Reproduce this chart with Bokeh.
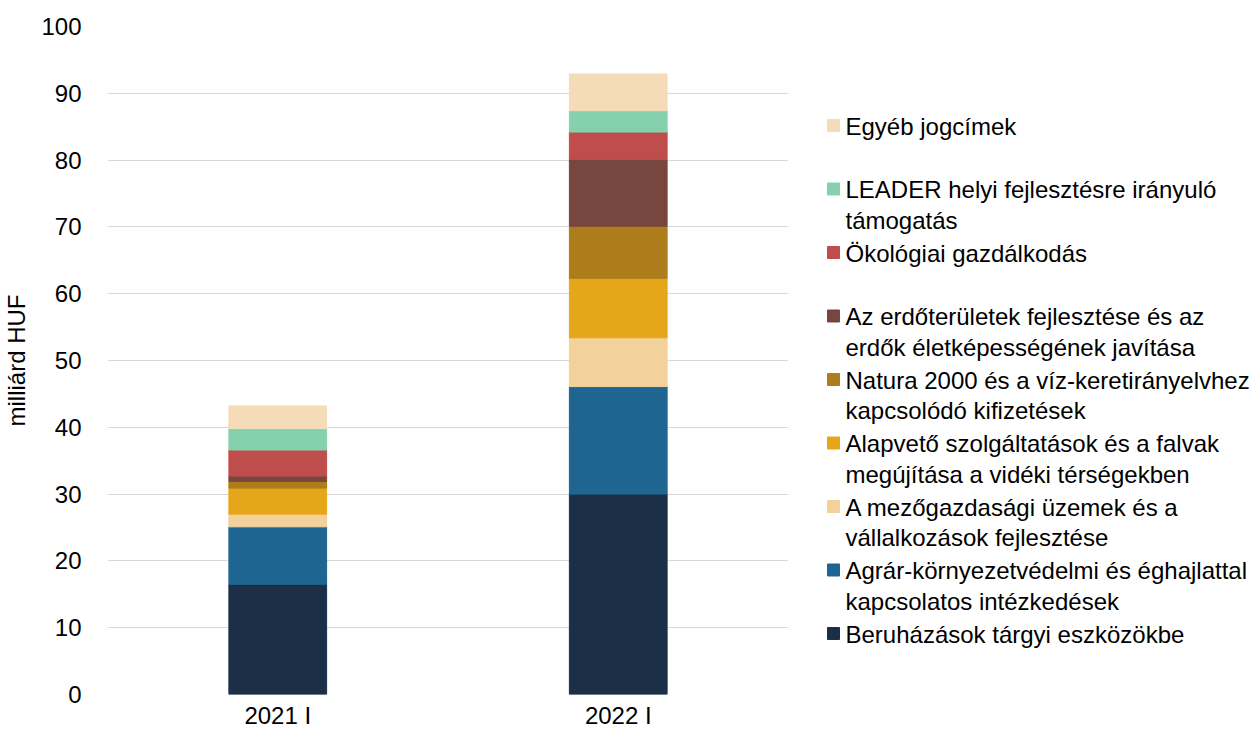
from bokeh.plotting import figure
from bokeh.models import ColumnDataSource, FactorRange, Range1d, SingleIntervalTicker
from bokeh.layouts import row
from bokeh.embed import file_html
from bokeh.resources import INLINE
from bokeh.core.properties import value

# ---- data ----
categories = ["2021 I", "2022 I"]
series_names = [
    "Beruházások tárgyi eszközökbe",
    "Agrár-környezetvédelmi és éghajlattal kapcsolatos intézkedések",
    "A mezőgazdasági üzemek és a vállalkozások fejlesztése",
    "Alapvető szolgáltatások és a falvak megújítása a vidéki térségekben",
    "Natura 2000 és a víz-keretirányelvhez kapcsolódó kifizetések",
    "Az erdőterületek fejlesztése és az erdők életképességének javítása",
    "Ökológiai gazdálkodás",
    "LEADER helyi fejlesztésre irányuló támogatás",
    "Egyéb jogcímek",
]
legend_labels = [
    "Beruházások tárgyi eszközökbe",
    "Agrár-környezetvédelmi és éghajlattal\nkapcsolatos intézkedések",
    "A mezőgazdasági üzemek és a\nvállalkozások fejlesztése",
    "Alapvető szolgáltatások és a falvak\nmegújítása a vidéki térségekben",
    "Natura 2000 és a víz-keretirányelvhez\nkapcsolódó kifizetések",
    "Az erdőterületek fejlesztése és az\nerdők életképességének javítása",
    "Ökológiai gazdálkodás",
    "LEADER helyi fejlesztésre irányuló\ntámogatás",
    "Egyéb jogcímek",
]
beruhazas = [16.5, 30.0]
agrar = [8.6, 16.1]
mezogazd = [1.9, 7.3]
alapveto = [3.9, 8.9]
natura = [1.0, 7.8]
erdo = [0.8, 10.0]
okologiai = [3.9, 4.1]
leader = [3.2, 3.2]
egyeb = [3.4, 5.5]
colors = ["#1b3047", "#1f6592", "#f2d19b", "#e6a61a", "#ad7d1c",
          "#77473f", "#bf4d4b", "#85d1ad", "#f3dcb7"]

keys = ["s0", "s1", "s2", "s3", "s4", "s5", "s6", "s7", "s8"]
series_values = [beruhazas, agrar, mezogazd, alapveto, natura, erdo, okologiai, leader, egyeb]
data = {"cat": categories}
for k, v in zip(keys, series_values):
    data[k] = v
source = ColumnDataSource(data)

FONT = "Liberation Sans"
FS = "24px"
H = 731
W_MAIN = 808
FRAME_TOP = 26
FRAME_BOTTOM = 694

p = figure(x_range=FactorRange(*categories, range_padding=0), y_range=Range1d(0, 100),
           width=W_MAIN, height=H, output_backend="svg", toolbar_location=None,
           min_border_left=104, min_border_right=20, min_border_top=FRAME_TOP,
           min_border_bottom=H - FRAME_BOTTOM)
p.vbar_stack(keys, x="cat", width=0.287, color=colors, source=source)

p.outline_line_color = None
p.xgrid.grid_line_color = None
p.ygrid.grid_line_color = "#d9d9d9"
p.ygrid.grid_line_width = 1
p.yaxis.ticker = SingleIntervalTicker(interval=10)
for ax in (p.xaxis, p.yaxis):
    ax.axis_line_color = None
    ax.major_tick_line_color = None
    ax.minor_tick_line_color = None
    ax.major_label_text_font = FONT
    ax.major_label_text_font_size = FS
    ax.major_label_text_color = "#000000"
p.yaxis.major_label_standoff = 20
p.xaxis.major_label_standoff = 1
p.yaxis.axis_label = "milliárd HUF"
p.yaxis.axis_label_text_font = FONT
p.yaxis.axis_label_text_font_size = FS
p.yaxis.axis_label_text_font_style = "normal"
p.yaxis.axis_label_text_color = "#000000"
p.yaxis.axis_label_standoff = 8

# ---- legend panel (its frame is aligned with the chart's frame by the row) ----
LW = 1251 - W_MAIN
leg = figure(x_range=Range1d(W_MAIN, W_MAIN + LW), y_range=Range1d(FRAME_BOTTOM, FRAME_TOP),
             width=LW, height=H, output_backend="svg", toolbar_location=None,
             min_border=0, min_border_top=FRAME_TOP, min_border_bottom=H - FRAME_BOTTOM)
leg.axis.visible = False
leg.grid.visible = False
leg.outline_line_color = None

n = len(series_names)
order = list(range(n - 1, -1, -1))  # top entry = last series
y_centers = [125 + 63.5 * i for i in range(n)]
leg_src = ColumnDataSource(dict(
    x=[833] * n,
    tx=[845] * n,
    y=y_centers,
    ty=[yc - 13 for yc in y_centers],
    color=[colors[j] for j in order],
    label=[legend_labels[j] for j in order],
))
leg.scatter(x="x", y="y", marker="square", size=12, color="color", source=leg_src)
leg.text(x="tx", y="ty", text="label", source=leg_src, text_font=value(FONT),
         text_font_size=FS, text_baseline="top", text_align="left",
         text_color="#000000", text_line_height=1.14)

layout = row(p, leg)
open("out.html", "w").write(file_html(layout, INLINE))
